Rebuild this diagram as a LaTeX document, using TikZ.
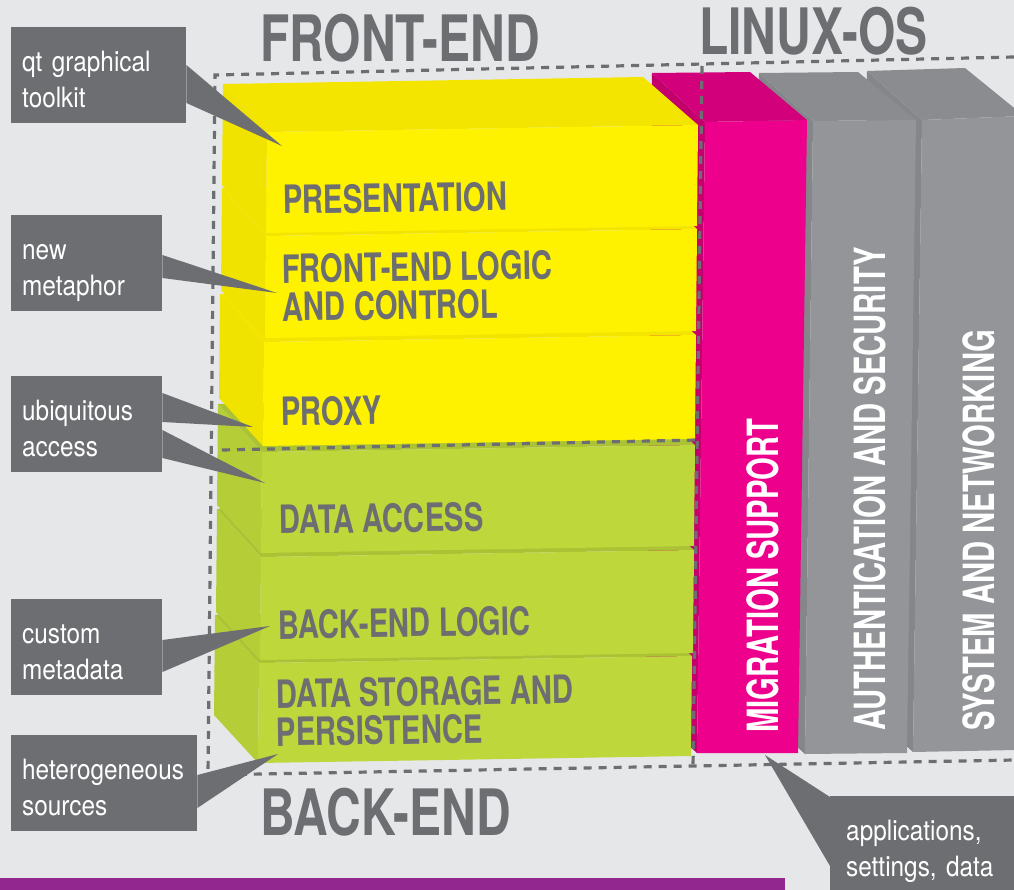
\documentclass[tikz,border=0pt]{standalone}
\usepackage{fontspec}
\setmainfont{TeX Gyre Heros}
\newfontfamily\blockfont[FakeStretch=0.75]{TeX Gyre Heros}
\newfontfamily\columnfont[FakeStretch=0.68]{TeX Gyre Heros}
\newfontfamily\titlefont[FakeStretch=0.75]{TeX Gyre Heros}
\newfontfamily\notefont[FakeStretch=0.87]{TeX Gyre Heros}
\newcommand\notetop{\rule{0pt}{36pt}}
\newcommand\notebot{\rule[-8pt]{0pt}{8pt}}

\definecolor{bgpaper}{HTML}{E6E7E8}
\definecolor{inkgray}{HTML}{6D6E71}
\definecolor{yelfront}{HTML}{FFF200}
\definecolor{yeltop}{HTML}{F4E500}
\definecolor{yelside}{HTML}{F1E300}
\definecolor{grnfront}{HTML}{BED73B}
\definecolor{grntop}{HTML}{ABC234}
\definecolor{grnside}{HTML}{B5CD36}
\definecolor{magfront}{HTML}{EC008C}
\definecolor{magtop}{HTML}{D2007A}
\definecolor{magside}{HTML}{C4006D}
\definecolor{osfront}{HTML}{939598}
\definecolor{ostop}{HTML}{8B8C8F}
\definecolor{osside}{HTML}{858689}
\definecolor{barpurple}{HTML}{92278F}

\tikzset{
  zoneline/.style={draw=inkgray, line width=3.2pt, dash pattern=on 8pt off 7pt},
  note/.style={fill=inkgray, text=white, align=left, anchor=north west,
    inner xsep=11pt, inner ysep=0pt, minimum height=96pt,
    font=\notefont\fontsize{28}{36}\selectfont,
    execute at begin node={\hyphenpenalty=10000\relax\notetop},
    execute at end node=\notebot},
  layertext/.style={text=inkgray, anchor=base west, rotate=0.9, inner sep=0pt,
    align=left, font=\blockfont\bfseries\fontsize{39}{38}\selectfont},
  columntext/.style={text=white, anchor=base west, rotate=90, inner sep=0pt,
    font=\columnfont\bfseries\fontsize{43}{43}\selectfont},
  heading/.style={text=inkgray, anchor=base west, inner sep=0pt,
    font=\titlefont\bfseries\fontsize{64}{64}\selectfont},
}

\begin{document}
\begin{tikzpicture}[x=1pt,y=-1pt]

    \useasboundingbox[fill=bgpaper] (0,0) rectangle (1014,890);

    % linux-os columns
    \fill[osside] (867,71) -- (922,120) -- (913,752) -- (859,704) -- cycle;
    \fill[ostop] (867,71) -- (965,68) -- (1024,116) -- (922,120) -- cycle;
    \fill[osfront] (922,120) -- (1024,116) -- (1016,750) -- (913,752) -- cycle;

    \fill[osside] (759,73) -- (813,121) -- (805,754) -- (751,706) -- cycle;
    \fill[ostop] (759,73) -- (858,72) -- (916,120) -- (813,121) -- cycle;
    \fill[osfront] (813,121) -- (916,120) -- (907,753) -- (805,754) -- cycle;

    \fill[magside] (652,73) -- (705,122) -- (697,753) -- (644,705) -- cycle;
    \fill[magtop] (652,73) -- (750,72) -- (807,120) -- (705,122) -- cycle;
    \fill[magfront] (705,122) -- (807,120) -- (798,753) -- (697,753) -- cycle;

    % stacked layers, bottom first
    \foreach \xl/\yt/\xr/\yb/\col in
      {259/663/692/763/grn, 261/557/694/660/grn, 262/452/695/553/grn,
       264/342/696/446/yel, 266/236/697/338/yel, 267/132/698/233/yel}
    {
      \fill[\col top] (\xl-44,\yt-48) -- (\xr-55,\yt-55) -- (\xr,\yt-7) -- (\xl,\yt) -- cycle;
      \fill[\col side] (\xl,\yt) -- (\xl-44,\yt-48) -- (\xl-45,\yb-48) -- (\xl-1,\yb) -- cycle;
      \fill[\col front] (\xl,\yt) -- (\xr,\yt-7) -- (\xr-1,\yb-7) -- (\xl-1,\yb) -- cycle;
    }

    % dashed zones
    \draw[zoneline] (1014,57) -- (215,75) -- (208,775) -- (1014,760);
    \draw[zoneline] (702,66) -- (693,768);
    \draw[zoneline] (222,450) -- (697,440);

    % layer labels
    \node[layertext] (presentation) at (283,214) {PRESENTATION};
    \node[layertext, anchor=west] (felogic) at (282,288) {FRONT-END LOGIC\\AND CONTROL};
    \node[layertext] (proxy) at (281,426) {PROXY};
    \node[layertext] (dataaccess) at (279,534) {DATA ACCESS};
    \node[layertext] (belogic) at (278,639) {BACK-END LOGIC};
    \node[layertext, anchor=west] (storage) at (276,713) {DATA STORAGE AND\\PERSISTENCE};

    \node[columntext] (migration) at (778,733) {MIGRATION SUPPORT};
    \node[columntext] (authsec) at (885,731) {AUTHENTICATION AND SECURITY};
    \node[columntext] (sysnet) at (994,731) {SYSTEM AND NETWORKING};

    \node[heading] (frontend) at (260,62) {FRONT-END};
    \node[heading] (linuxos) at (699,55) {LINUX-OS};
    \node[heading] (backend) at (260,835) {BACK-END};

    \fill[barpurple] (0,878) rectangle (785,892);

    % callouts
    \coordinate (qttip) at (282,146);
    \coordinate (newtip) at (277,293);
    \coordinate (ubiqtipa) at (253,427);
    \coordinate (ubiqtipb) at (265,483);
    \coordinate (customtip) at (270,626);
    \coordinate (heterotip) at (278,754);
    \coordinate (appstip) at (765,755);

    \node[note, text width=153pt] (qtnote) at (11,27) {qt graphical\\toolkit};
    \node[note, text width=129pt] (newnote) at (11,215) {new\\metaphor};
    \node[note, text width=129pt] (ubiqnote) at (11,376) {ubiquitous\\access};
    \node[note, text width=129pt] (customnote) at (11,599) {custom\\metadata};
    \node[note, text width=164pt] (heteronote) at (11,735) {heterogeneous\\sources};
    \node[note, text width=152pt, inner xsep=16pt] (appsnote) at (830,796) {applications,\\settings, data};

    \fill[inkgray] ([yshift=-38pt]qtnote.north east) -- (qttip) -- ([yshift=-76pt]qtnote.north east) -- cycle;
    \fill[inkgray] ([yshift=-40pt]newnote.north east) -- (newtip) -- ([yshift=-63pt]newnote.north east) -- cycle;
    \fill[inkgray] ([yshift=-17pt]ubiqnote.north east) -- (ubiqtipa) -- ([yshift=-46pt]ubiqnote.north east) -- cycle;
    \fill[inkgray] ([yshift=-54pt]ubiqnote.north east) -- (ubiqtipb) -- ([yshift=-82pt]ubiqnote.north east) -- cycle;
    \fill[inkgray] ([yshift=-41pt]customnote.north east) -- (customtip) -- ([yshift=-73pt]customnote.north east) -- cycle;
    \fill[inkgray] ([yshift=-40pt]heteronote.north east) -- (heterotip) -- ([yshift=-73pt]heteronote.north east) -- cycle;
    \fill[inkgray] ([yshift=-1pt]appsnote.north west) -- (appstip) -- ([yshift=-70pt]appsnote.north west) -- cycle;

\end{tikzpicture}
\end{document}
